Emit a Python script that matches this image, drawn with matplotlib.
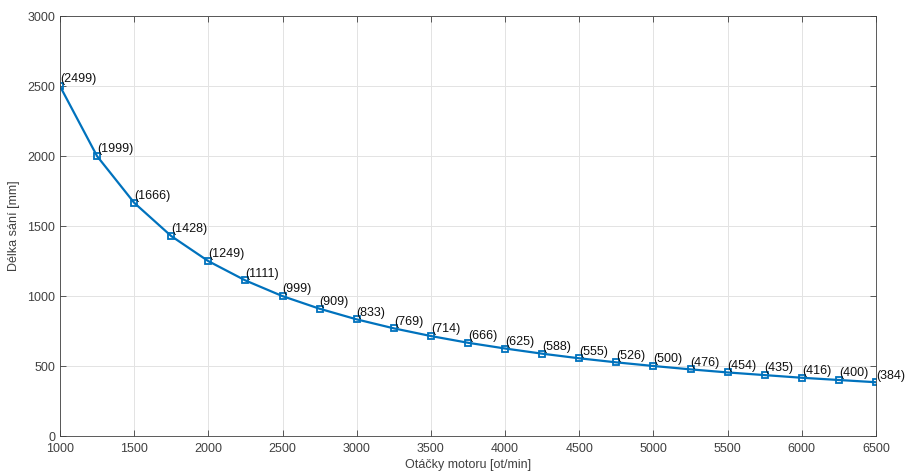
import numpy as np
import matplotlib
matplotlib.use('Agg')
import matplotlib.pyplot as plt

plt.rcParams['font.family'] = ['Liberation Sans', 'DejaVu Sans']

# otacky motoru a delka sani
otacky = [1000, 1250, 1500, 1750, 2000, 2250, 2500, 2750, 3000, 3250, 3500, 3750,
          4000, 4250, 4500, 4750, 5000, 5250, 5500, 5750, 6000, 6250, 6500]
delka = [2499, 1999, 1666, 1428, 1249, 1111, 999, 909, 833, 769, 714, 666,
         625, 588, 555, 526, 500, 476, 454, 435, 416, 400, 384]

modra = '#0072BD'

fig = plt.figure(figsize=(9.06, 4.75), dpi=100)
ax = fig.add_axes([0.0662, 0.0821, 0.9007, 0.8842])

ax.plot(otacky, delka, color=modra, lw=1.6, marker='s', ms=4.5,
        mfc='none', mec=modra, mew=1.3)

for x, y in zip(otacky, delka):
    ax.annotate('(%d)' % y, (x, y), xytext=(0, 0.5), textcoords='offset points',
                ha='left', va='bottom', fontsize=9, color='#111111')

ax.set_xlim(1000, 6500)
ax.set_ylim(0, 3000)
ax.set_xticks(np.arange(1000, 6501, 500))
ax.set_yticks(np.arange(0, 3001, 500))
ax.grid(True, color='#e3e3e3', lw=0.7)
ax.set_axisbelow(True)
ax.tick_params(direction='in', top=True, right=True, labelsize=9,
               colors='#404040', length=4, width=0.6)
ax.tick_params(axis='x', pad=5)
ax.tick_params(axis='y', pad=3.5)
for s in ax.spines.values():
    s.set_color('#404040')
    s.set_linewidth(0.6)

ax.set_xlabel('Otáčky motoru [ot/min]', fontsize=9, color='#404040', labelpad=3)
ax.set_ylabel('Délka sání [mm]', fontsize=9, color='#404040', labelpad=5)

fig.savefig('out.png', dpi=100)
